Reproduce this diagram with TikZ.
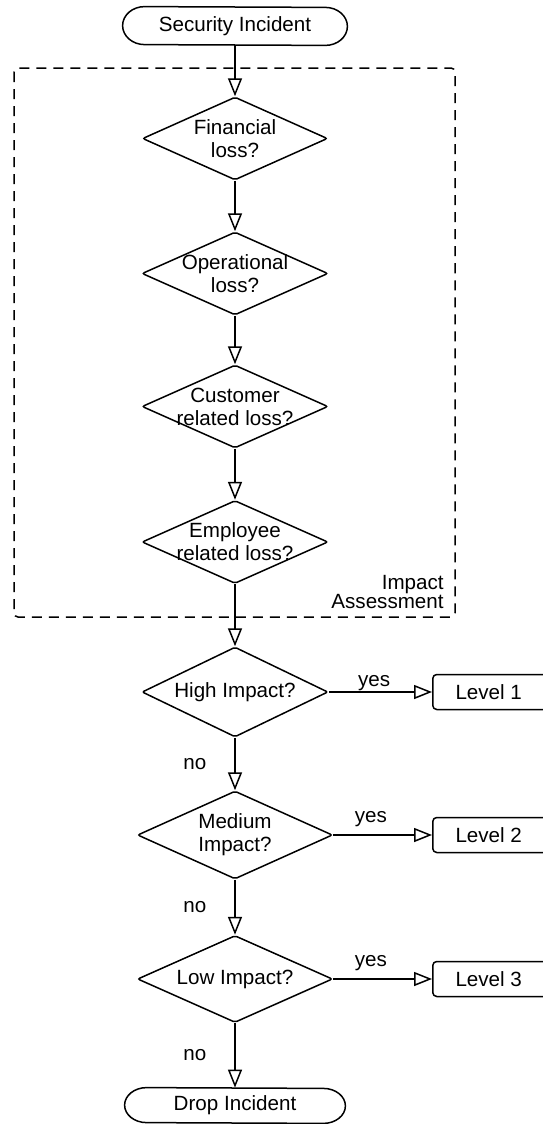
\documentclass[tikz,border=0pt]{standalone}
\usepackage{fontspec}
\setmainfont{Liberation Sans}
\usetikzlibrary{arrows.meta,shapes.geometric}
\newcommand\termshape[2]{\draw[line width=0.75pt] (#1.north west) arc[start angle=90,end angle=270,x radius=11pt,y radius=#2] -- (#1.south east) arc[start angle=-90,end angle=90,x radius=11pt,y radius=#2] -- cycle;}
\begin{document}
\begin{tikzpicture}[x=0.5pt,y=-0.5pt,
  every node/.style={font=\fontsize{10.3}{11.5}\selectfont},
  ln/.style={line width=0.75pt},
  arr/.style={ln,-{Triangle[open,length=9pt,width=7pt]}},
  dia/.style 2 args={diamond,draw,line width=0.75pt,inner sep=0pt,minimum width=#1,minimum height=#2,rounded corners=1pt},
  dtext/.style={align=center,inner sep=0pt,font=\fontsize{10.3}{11.5}\selectfont},
  term/.style 2 args={rectangle,inner sep=0pt,minimum width=#1,minimum height=#2},
  lvl/.style={draw,line width=0.75pt,rectangle,rounded corners=2pt,minimum width=64pt,minimum height=17.5pt,inner sep=0pt,anchor=west},
  lab/.style={inner sep=0pt},
  grp/.style={draw,line width=0.75pt,dash pattern=on 5pt off 3.5pt,rounded corners=2pt}]
\useasboundingbox (0,0) rectangle (542,1124);
% impact assessment group
\draw[grp] (14,68) rectangle (455,617);
\node[lab,align=right,anchor=east,font=\fontsize{10.3}{9.5}\selectfont] (ia) at (444,592) {Impact\\Assessment};
% nodes
\node[term={90pt}{19pt}] (si) at (235,26) {Security Incident};
\termshape{si}{9.5pt}
\node[dia={92.5pt}{41.5pt},label={[dtext]center:{Financial\\loss?}}] (f) at (235,138.5) {};
\node[dia={93pt}{41.5pt},label={[dtext]center:{Operational\\loss?}}] (o) at (235,273.5) {};
\node[dia={93pt}{41.5pt},label={[dtext]center:{Customer\\related loss?}}] (c) at (235,406.5) {};
\node[dia={93pt}{41.5pt},label={[dtext]center:{Employee\\related loss?}}] (e) at (235,542) {};
\node[dia={93pt}{45pt},label={[dtext]center:{High Impact?}}] (hi) at (235,692) {};
\node[dia={97.5pt}{44pt},label={[dtext]center:{Medium\\Impact?}}] (me) at (235,835) {};
\node[dia={97.5pt}{43.5pt},label={[dtext]center:{Low Impact?}}] (lo) at (235,979) {};
\node[term={88pt}{17.5pt}] (dr) at (235,1105.5) {Drop Incident};
\termshape{dr}{8.75pt}
\node[lvl] (l1) at (432,692) {\hspace*{-8pt}Level 1};
\node[lvl] (l2) at (432,835) {\hspace*{-8pt}Level 2};
\node[lvl] (l3) at (432,979) {\hspace*{-8pt}Level 3};
% connectors
\draw[arr] (si.south) -- (f.north);
\draw[arr] (f.south) -- (o.north);
\draw[arr] (o.south) -- (c.north);
\draw[arr] (c.south) -- (e.north);
\draw[arr] (e.south) -- (hi.north);
\draw[arr] (hi.east) -- node[lab,pos=0.44,above] {yes} (l1.west);
\draw[arr] (me.east) -- node[lab,pos=0.38,above=3.5pt] {yes} (l2.west);
\draw[arr] (lo.east) -- node[lab,pos=0.38,above=3.5pt] {yes} (l3.west);
\draw[arr] (hi.south) -- node[lab,pos=0.5,left=14pt] {no} (me.north);
\draw[arr] (me.south) -- node[lab,pos=0.5,left=14pt] {no} (lo.north);
\draw[arr] (lo.south) -- node[lab,pos=0.5,left=14pt] {no} (dr.north);
\end{tikzpicture}
\end{document}
